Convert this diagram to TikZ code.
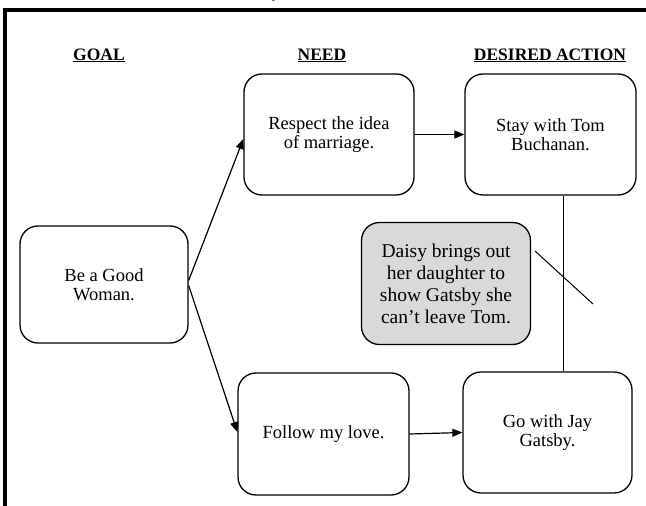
\documentclass[tikz,border=0pt]{standalone}
\usepackage{fontspec}
\setmainfont{Liberation Serif}
\usetikzlibrary{arrows.meta}
\begin{document}
\begin{tikzpicture}[x=1pt,y=-1pt,
  box/.style={draw, line width=1.3pt, rounded corners=18pt, align=center,
    inner sep=0pt, font=\fontsize{18.5}{19.5}\selectfont},
  hdr/.style={anchor=base, font=\bfseries\fontsize{17.5}{19}\selectfont},
  arr/.style={line width=1.2pt, -{Triangle[length=10pt,width=8pt]}},
  plain/.style={line width=1pt}]
\useasboundingbox (0,0) rectangle (646,506);
% frame
\draw[line width=4pt] (5,508) -- (5,9.5) -- (650,9.5);
\node[anchor=base, font=\bfseries\fontsize{17}{19}\selectfont] (ttl) at (276,-2.5) {y};
% headers
\node[hdr] (h1) at (99,60) {\underline{GOAL}};
\node[hdr] (h2) at (322,60) {\underline{NEED}};
\node[hdr] (h3) at (550,60) {\underline{DESIRED ACTION}};
% boxes
\node[box, minimum width=168pt, minimum height=117pt] (good) at (104,284.5) {Be a Good\\Woman.};
\node[box, minimum width=170pt, minimum height=121pt] (respect) at (329,134.5) {Respect the idea\\of marriage.};
\node[box, minimum width=171pt, minimum height=121pt] (stay) at (550.5,134.5) {Stay with Tom\\Buchanan.};
\node[box, fill=black!15, minimum width=169pt, minimum height=122pt,
  font=\fontsize{19.5}{22}\selectfont] (daisy) at (446,283.5) {Daisy brings out\\her daughter to\\show Gatsby she\\can't leave Tom.};
\node[box, minimum width=171pt, minimum height=122pt] (follow) at (323.5,434) {Follow my love.};
\node[box, minimum width=169pt, minimum height=121pt] (go) at (547.5,432.5) {Go with Jay\\Gatsby.};
% connectors
\draw[arr] ([yshift=4pt]good.east) -- ([yshift=-4.5pt]respect.west);
\draw[arr] ([yshift=-1pt]good.east) -- ([yshift=2pt]follow.west);
\draw[arr] (respect.east) -- (stay.west);
\draw[arr] (follow.east) -- (go.west);
\draw[plain] ([xshift=12.5pt]stay.south) -- ([xshift=12.5pt]stay.south |- go.north);
\coordinate (s1) at (535,251);
\coordinate (s2) at (593,304);
\draw[plain] (s1) -- (s2);
\end{tikzpicture}
\end{document}
